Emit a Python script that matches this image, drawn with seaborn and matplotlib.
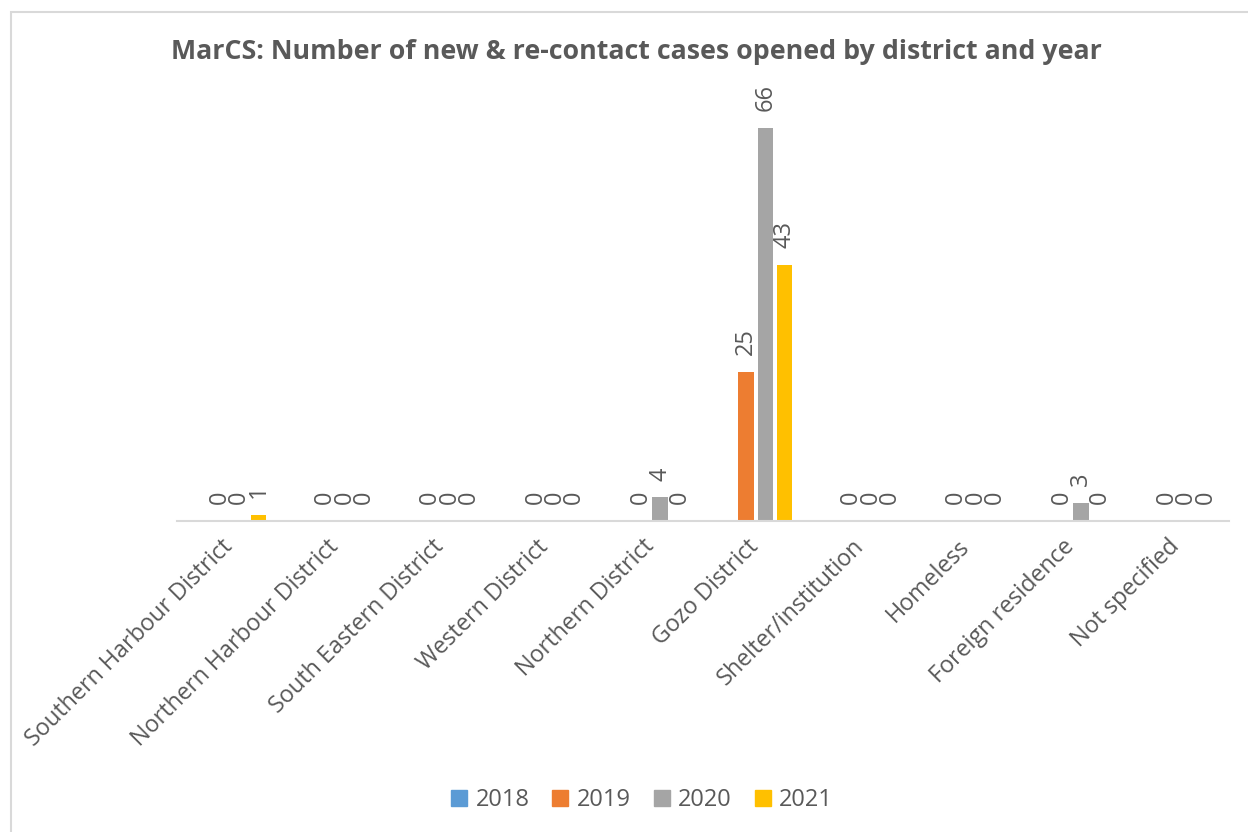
import numpy as np
import pandas as pd
import matplotlib
matplotlib.use('Agg')
import matplotlib.pyplot as plt
import seaborn as sns
from matplotlib.lines import Line2D
from matplotlib.patches import Rectangle

# data (2018 has no values at all)
districts = ['Southern Harbour District', 'Northern Harbour District', 'South Eastern District',
             'Western District', 'Northern District', 'Gozo District', 'Shelter/institution',
             'Homeless', 'Foreign residence', 'Not specified']
years = ['2018', '2019', '2020', '2021']
cases_2018 = [None, None, None, None, None, None, None, None, None, None]
cases_2019 = [0, 0, 0, 0, 0, 25, 0, 0, 0, 0]
cases_2020 = [0, 0, 0, 0, 4, 66, 0, 0, 3, 0]
cases_2021 = [1, 0, 0, 0, 0, 43, 0, 0, 0, 0]
colors = ['#5B9BD5', '#ED7D31', '#A5A5A5', '#FFC000']

text_col = '#595959'
line_col = '#D9D9D9'

# long format table for seaborn
rows = []
for yr, vals in zip(years, [cases_2018, cases_2019, cases_2020, cases_2021]):
    for d, v in zip(districts, vals):
        rows.append({'district': d, 'year': yr, 'cases': np.nan if v is None else v})
df = pd.DataFrame(rows)

sns.set_style('white')
plt.rcParams['font.family'] = ['Open Sans', 'DejaVu Sans']

fig = plt.figure(figsize=(12.48, 8.32), dpi=100)
ax = fig.add_axes([177 / 1248, 1 - 521 / 832, 1052 / 1248, 417 / 832])

sns.barplot(data=df, x='district', y='cases', hue='year', hue_order=years,
            order=districts, palette=colors, saturation=1, width=0.735, gap=0.2,
            errorbar=None, linewidth=0, legend=False, ax=ax)

for c in ax.containers:
    ax.bar_label(c, fmt='%d', rotation=90, padding=12, color=text_col, fontsize=17)

ax.set_ylim(0, 70)
ax.set_xlim(-0.5, len(districts) - 0.5)
ax.set_xlabel('')
ax.set_ylabel('')
ax.set_yticks([])
for s in ['left', 'right', 'top']:
    ax.spines[s].set_visible(False)
ax.spines['bottom'].set_color(line_col)
ax.spines['bottom'].set_linewidth(1.5)
ax.tick_params(axis='x', length=0, pad=16)
plt.setp(ax.get_xticklabels(), rotation=45, ha='right', va='center',
         rotation_mode='anchor', fontsize=16.8, color=text_col)

fig.text(0.51, 0.9375, 'MarCS: Number of new & re-contact cases opened by district and year',
         ha='center', va='center', fontsize=19.3, fontweight='bold', color=text_col)

handles = [Line2D([], [], marker='s', linestyle='', markersize=11, color=c) for c in colors]
fig.legend(handles, years, loc='center', bbox_to_anchor=(0.513, 0.038), ncol=4,
           frameon=False, fontsize=17, labelcolor=text_col, handletextpad=0.2,
           columnspacing=0.8, handlelength=1.0)

# chart border
fig.add_artist(Rectangle((11 / 1248, -0.1), 2, 1 - 12 / 832 + 0.1, transform=fig.transFigure,
                         fill=False, edgecolor=line_col, linewidth=1.5))

fig.savefig('out.png', dpi=100)
